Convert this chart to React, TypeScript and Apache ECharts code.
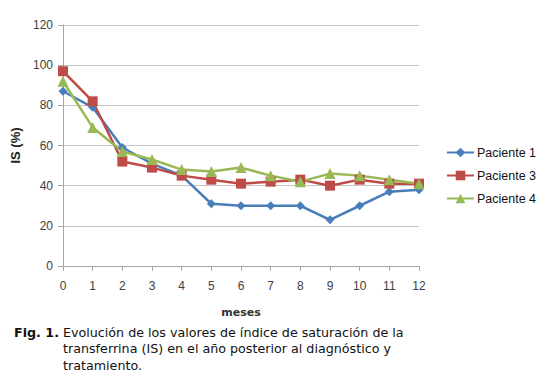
import React, { useEffect, useRef } from "react";
import * as echarts from "echarts";

const months = ["0", "1", "2", "3", "4", "5", "6", "7", "8", "9", "10", "11", "12"];
const paciente1 = [87, 79, 59, 51, 45, 31, 30, 30, 30, 23, 30, 37, 38];
const paciente3 = [97, 82, 52, 49, 45, 43, 41, 42, 43, 40, 43, 41, 41];
const paciente4 = [92, 69, 57, 53, 48, 47, 49, 45, 42, 46, 45, 43, 41];
const yTicks = { min: 0, max: 120, interval: 20 };

export default function App() {
  const ref = useRef<HTMLDivElement>(null);
  useEffect(() => {
    document.body.style.margin = "0";
    const chart = echarts.init(ref.current!, undefined, { renderer: "svg" });
    const axisText = { color: "#404040", fontFamily: "Liberation Sans", fontSize: 12 };
    const mk = (name: string, data: number[], color: string, symbol: string, size: number) => ({
      name,
      type: "line",
      data,
      symbol,
      symbolSize: size,
      showAllSymbol: true,
      lineStyle: { color, width: 2.5 },
      itemStyle: { color },
    });
    chart.setOption({
      animation: false,
      grid: { left: 63, right: 127, top: 25, bottom: 109 },
      xAxis: {
        type: "category",
        data: months,
        boundaryGap: false,
        name: "meses",
        nameLocation: "middle",
        nameGap: 41,
        nameTextStyle: { color: "#333", fontFamily: "DejaVu Sans", fontWeight: "bold", fontSize: 11 },
        axisLine: { lineStyle: { color: "#a6a6a6" } },
        axisTick: { show: true, alignWithLabel: true, length: 5, lineStyle: { color: "#a6a6a6" } },
        axisLabel: { ...axisText, margin: 14 },
      },
      yAxis: {
        type: "value",
        ...yTicks,
        name: "IS (%)",
        nameLocation: "middle",
        nameGap: 38,
        nameRotate: 90,
        nameTextStyle: { color: "#222", fontFamily: "Liberation Sans", fontWeight: "bold", fontSize: 13 },
        axisLine: { show: true, lineStyle: { color: "#a6a6a6" } },
        axisTick: { show: true, length: 5, lineStyle: { color: "#a6a6a6" } },
        axisLabel: { ...axisText, margin: 10 },
        splitLine: { lineStyle: { color: "#c4c4c4" } },
      },
      legend: {
        orient: "vertical",
        left: 446,
        top: 146,
        padding: 0,
        itemGap: 10,
        itemWidth: 27,
        itemHeight: 12,
        textStyle: { color: "#111", fontFamily: "Liberation Sans", fontSize: 12.5, padding: [0, 0, 0, -2] },
        data: ["Paciente 1", "Paciente 3", "Paciente 4"],
      },
      series: [
        mk("Paciente 1", paciente1, "#4a7ebb", "diamond", 9),
        mk("Paciente 3", paciente3, "#be4b48", "rect", 10),
        mk("Paciente 4", paciente4, "#98b954", "triangle", 11),
      ],
      graphic: [
        {
          type: "text",
          left: 14,
          top: 326,
          style: {
            text: "{b|Fig. 1.} Evolución de los valores de índice de saturación de la",
            fill: "#111",
            font: "12.7px 'DejaVu Sans'",
            rich: { b: { fontWeight: "bold", fontFamily: "DejaVu Sans", fontSize: 12.7, fill: "#111" } },
          },
        },
        {
          type: "text",
          left: 63,
          top: 340,
          style: {
            text: "transferrina (IS) en el año posterior al diagnóstico y\ntratamiento.",
            fill: "#111",
            font: "12.7px 'DejaVu Sans'",
            lineHeight: 17,
          },
        },
      ],
    });
    return () => chart.dispose();
  }, []);
  return <div ref={ref} style={{ width: 546, height: 375 }} />;
}
